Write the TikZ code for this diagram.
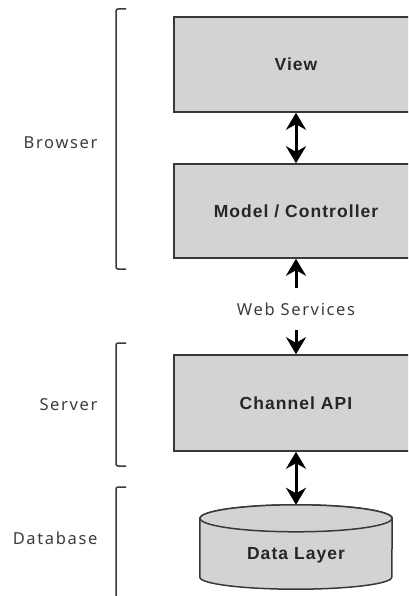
\documentclass[tikz,border=0pt]{standalone}
\usepackage{fontspec}
\setmainfont{Noto Sans}
\newfontfamily\lblfont[LetterSpace=10]{Noto Sans}
\newfontfamily\boxfont[LetterSpace=6]{Liberation Sans}
\usetikzlibrary{arrows.meta,positioning}
\definecolor{boxgray}{HTML}{D3D3D3}
\definecolor{edgegray}{HTML}{383838}
\definecolor{txtgray}{HTML}{262626}
\begin{document}
\begin{tikzpicture}[x=1pt,y=-1pt,
  layer/.style={draw=edgegray,fill=boxgray,line width=1.5pt,minimum width=244pt,font=\boxfont\bfseries\fontsize{17.5}{20}\selectfont,text=txtgray},
  tier/.style={anchor=east,font=\lblfont\fontsize{16.5}{19}\selectfont,text=txtgray!90},
  bracket/.style={draw=edgegray,line width=1.5pt,rounded corners=2pt},
  cyl/.style={draw=edgegray,fill=boxgray,line width=1.5pt},
  flow/.style={line width=3pt,-{Stealth[length=17pt,width=20pt]}},
  both/.style={line width=3pt,{Stealth[length=17pt,width=20pt]}-{Stealth[length=17pt,width=20pt]}}]
\useasboundingbox (0,0) rectangle (408,596);
\clip (0,0) rectangle (408,596);
\node[layer,minimum height=95pt] (view) at (296,64.5) {View};
\node[layer,minimum height=94pt] (model) at (296,211) {Model / Controller};
\node[tier,anchor=center,minimum height=41pt,inner sep=0pt] (web) at (296,309) {Web Services};
\node[layer,minimum height=96pt] (channel) at (296,403) {Channel API};
\node[minimum width=192pt,minimum height=84pt,inner sep=0pt] (data) at (296,547) {};
\draw[cyl] ([yshift=-13.5pt]data.north west) -- ([yshift=12pt]data.south west)
  arc[start angle=180,end angle=0,x radius=96,y radius=12] -- ([yshift=-13.5pt]data.north east)
  arc[start angle=360,end angle=180,x radius=96,y radius=13.5] -- cycle;
\draw[cyl] ([yshift=-13.5pt]data.north) ellipse[x radius=96,y radius=13.5];
\node[font=\boxfont\bfseries\fontsize{17.5}{20}\selectfont,text=txtgray] (datalbl) at (296,555) {Data Layer};
\node[tier] (browser) at (101,143) {Browser};
\node[tier] (server) at (101,405) {Server};
\node[tier] (database) at (101,538) {Database};
\draw[bracket] (126,9) -- (116,9) -- (116,269) -- (126,269);
\draw[bracket] (126,343) -- (116,343) -- (116,466) -- (126,466);
\draw[bracket] (126,487) -- (116,487) -- (116,600);
\draw[both] (view) -- (model);
\draw[flow] (web) -- (model);
\draw[flow] (web) -- (channel);
\draw[both] (channel) -- (data);
\end{tikzpicture}
\end{document}
